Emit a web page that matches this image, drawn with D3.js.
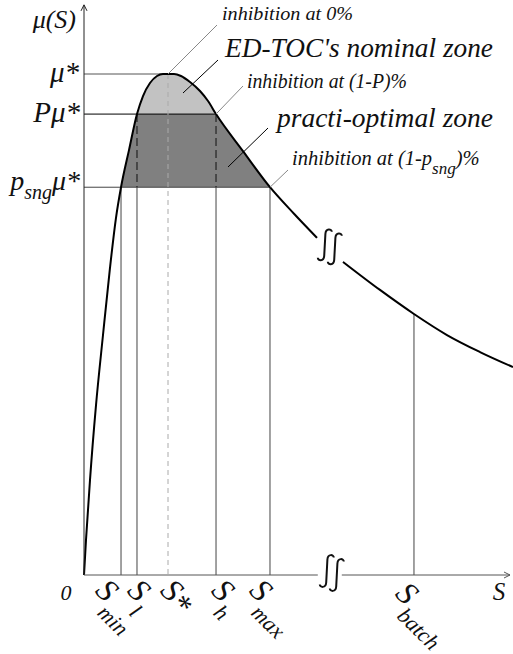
<!DOCTYPE html>
<html>
  <head>
    <meta charset="utf-8">
  </head>
  <body style="margin:0">
    <script src="https://d3js.org/d3.v7.min.js"></script>
    <svg id="chart" width="513" height="654"></svg>
    <script>
      // growth curve, before and after the break (S, mu/mu*)
      const curveA = [
        [0, 0], [0.047, 0.070], [0.141, 0.190], [0.282, 0.339], [0.446, 0.479], [0.610, 0.613],
        [0.751, 0.713], [0.869, 0.774], [1.056, 0.848], [1.244, 0.920], [1.385, 0.956], [1.549, 0.982],
        [1.714, 0.996], [1.854, 1.0], [1.972, 1.0], [2.113, 1.0], [2.277, 0.996], [2.488, 0.984],
        [2.723, 0.966], [2.911, 0.946], [3.099, 0.920], [3.732, 0.846], [4.366, 0.774],
        [4.930, 0.721], [5.469, 0.673]
      ]
      const curveB = [
        [6.080, 0.625], [6.948, 0.569], [7.746, 0.521], [8.521, 0.479], [9.296, 0.445], [10.07, 0.415]
      ]

      // levels on the mu axis
      const levelValues = [1.0, 0.92, 0.774]
      const levelEnds = [1.972, 3.099, 4.366]

      // marks on the S axis
      const tickSubs = ['min', 'l', '*', 'h', 'max', 'batch']
      const tickValues = [0.869, 1.244, 1.972, 3.099, 4.366, 7.746]
      const tickTops = [0.774, 0.92, 1.0, 0.92, 0.774, 0.521]

      const breakS = 5.77
      const breakMu = 0.655

      const svg = d3.select('#chart')
      const x = d3.scaleLinear().domain([0, 10]).range([84, 510])
      const y = d3.scaleLinear().domain([0, 1]).range([575, 74])

      // all labels in italic Times-like serif
      function label(sel, size) {
        return sel.append('text')
          .attr('font-family', 'Liberation Serif')
          .attr('font-style', 'italic')
          .attr('style', `font-family: "Liberation Serif", serif !important; font-style: italic !important; font-size: ${size}px`)
          .attr('fill', '#111')
      }

      const defs = svg.append('defs')
      // clip bands for the two zones
      defs.append('clipPath').attr('id', 'zoneTop')
        .append('rect').attr('x', 0).attr('width', 513)
        .attr('y', y(1.1)).attr('height', y(levelValues[1]) - y(1.1))
      defs.append('clipPath').attr('id', 'zoneMid')
        .append('rect').attr('x', 0).attr('width', 513)
        .attr('y', y(levelValues[1])).attr('height', y(levelValues[2]) - y(levelValues[1]))

      const area = d3.area()
        .x(d => x(d[0])).y0(y(0)).y1(d => y(d[1]))
        .curve(d3.curveMonotoneX)

      svg.append('path').attr('d', area(curveA))
        .attr('clip-path', 'url(#zoneTop)').attr('fill', '#c2c2c2')
      svg.append('path').attr('d', area(curveA))
        .attr('clip-path', 'url(#zoneMid)').attr('fill', '#808080')

      // horizontal level lines
      const levelColors = ['#555', '#000', '#444']
      levelValues.forEach((v, i) => {
        svg.append('line')
          .attr('x1', x(0)).attr('x2', x(levelEnds[i]))
          .attr('y1', y(v)).attr('y2', y(v))
          .attr('stroke', levelColors[i]).attr('stroke-width', 1)
      })

      // vertical lines at the marks
      tickValues.forEach((v, i) => {
        const sub = tickSubs[i]
        if (sub === '*') {
          svg.append('line')
            .attr('x1', x(v)).attr('x2', x(v)).attr('y1', y(tickTops[i])).attr('y2', y(0))
            .attr('stroke', '#aaa').attr('stroke-dasharray', '5,4')
        } else if (sub === 'l' || sub === 'h') {
          svg.append('line')
            .attr('x1', x(v)).attr('x2', x(v)).attr('y1', y(tickTops[i])).attr('y2', y(levelValues[2]))
            .attr('stroke', '#222').attr('stroke-width', 1.2).attr('stroke-dasharray', '8,4')
          svg.append('line')
            .attr('x1', x(v)).attr('x2', x(v)).attr('y1', y(levelValues[2])).attr('y2', y(0))
            .attr('stroke', '#444')
        } else {
          svg.append('line')
            .attr('x1', x(v)).attr('x2', x(v)).attr('y1', y(tickTops[i])).attr('y2', y(0))
            .attr('stroke', '#444')
        }
      })

      // curve
      const line = d3.line().x(d => x(d[0])).y(d => y(d[1])).curve(d3.curveMonotoneX)
      svg.append('path').attr('d', line(curveA)).attr('fill', 'none')
        .attr('stroke', '#000').attr('stroke-width', 2)
      svg.append('path').attr('d', line(curveB)).attr('fill', 'none')
        .attr('stroke', '#000').attr('stroke-width', 2)

      // axes
      const bx = x(breakS)
      svg.append('line').attr('x1', x(0)).attr('x2', x(0)).attr('y1', y(0)).attr('y2', y(1.138))
        .attr('stroke', '#222')
      svg.append('path')
        .attr('d', `M${x(0) - 3},${y(1.138) + 6}L${x(0)},${y(1.138)}L${x(0) + 3},${y(1.138) + 6}`)
        .attr('fill', 'none').attr('stroke', '#222')
      svg.append('line').attr('x1', x(0)).attr('x2', bx - 12).attr('y1', y(0)).attr('y2', y(0))
        .attr('stroke', '#555')
      svg.append('line').attr('x1', bx + 12).attr('x2', x(10)).attr('y1', y(0)).attr('y2', y(0))
        .attr('stroke', '#555')
      svg.append('path')
        .attr('d', `M${x(10) - 6},${y(0) - 3}L${x(10)},${y(0)}L${x(10) - 6},${y(0) + 3}`)
        .attr('fill', 'none').attr('stroke', '#555')

      // break marks
      function breakMark(cx, cy, h) {
        [[-5, -2], [5, 2]].forEach(([ox, oy]) => {
          const sx = cx + ox, yt = cy + oy - h / 2, yb = cy + oy + h / 2
          svg.append('path')
            .attr('d', `M${sx - 7},${yb - 2}C${sx - 7},${yb + 1} ${sx - 1},${yb + 2} ${sx - 0.6},${yb - 4}` +
              `L${sx + 0.6},${yt + 4}C${sx + 1},${yt - 2} ${sx + 7},${yt - 1} ${sx + 7},${yt + 2}`)
            .attr('fill', 'none').attr('stroke', '#111').attr('stroke-width', 2)
        })
      }
      breakMark(bx, y(breakMu), 30)
      breakMark(bx + 2, y(0) - 2, 31)

      // mu axis labels
      label(svg, 26).attr('x', 76).attr('y', 28).attr('text-anchor', 'end').text('μ(S)')
      label(svg, 29).attr('x', 79).attr('y', y(levelValues[0]) + 8).attr('text-anchor', 'end').text('μ*')
      label(svg, 29).attr('x', 80).attr('y', y(levelValues[1]) + 8).attr('text-anchor', 'end').text('Pμ*')
      const ps = label(svg, 28).attr('x', 80).attr('y', y(levelValues[2]) + 3).attr('text-anchor', 'end')
      ps.append('tspan').text('p')
      ps.append('tspan').style('font-size', '20px').attr('dy', 9).text('sng')
      ps.append('tspan').attr('dy', -9).text('μ*')

      // S axis labels
      label(svg, 22).attr('x', 66).attr('y', 600).attr('text-anchor', 'middle').text('0')
      label(svg, 25).attr('x', 499).attr('y', 600).attr('text-anchor', 'middle').text('S')

      const labelNudge = { min: -11, l: 5, '*': 7, h: 10, max: -6, batch: -4 }
      tickValues.forEach((v, i) => {
        const sub = tickSubs[i]
        const g = svg.append('g')
          .attr('transform', `translate(${x(v) - 16 + labelNudge[sub]},${y(0) + 17 + (sub === 'batch' ? 3 : 0)}) rotate(45)`)
        const t = label(g, 32)
        t.append('tspan').text('S')
        if (sub === '*') {
          t.append('tspan').attr('dy', 4).text('*')
        } else {
          t.append('tspan').style('font-size', '22px').attr('dx', 1).attr('dy', 14).text(sub)
        }
      })

      // annotations
      function leader(x1, y1, x2, y2, color) {
        svg.append('line').attr('x1', x1).attr('y1', y1).attr('x2', x2).attr('y2', y2)
          .attr('stroke', color).attr('stroke-width', 1)
      }
      leader(x(tickValues[2]), y(1.0), 217, 25, '#888')
      leader(183, 93, 218, 60, '#000')
      leader(x(tickValues[3]), y(levelValues[1]), 243, 86, '#888')
      leader(228, 167, 268, 128, '#000')
      leader(x(tickValues[4]), y(levelValues[2]), 288, 170, '#888')

      function fitted(t, w) {
        return t.attr('textLength', w).attr('lengthAdjust', 'spacingAndGlyphs')
      }
      fitted(label(svg, 19).attr('x', 222).attr('y', 20).text('inhibition at 0%'), 131)
      fitted(label(svg, 28).attr('x', 225).attr('y', 57).text("ED-TOC's nominal zone"), 268)
      fitted(label(svg, 20).attr('x', 247).attr('y', 88).text('inhibition at (1-P)%'), 160)
      fitted(label(svg, 28).attr('x', 277).attr('y', 127).text('practi-optimal zone'), 216)
      const ia = label(svg, 20.5).attr('x', 292).attr('y', 165)
      ia.append('tspan').text('inhibition at (1-p')
      ia.append('tspan').style('font-size', '17px').attr('dy', 9).text('sng')
      ia.append('tspan').attr('dy', -9).text(')%')
    </script>
  </body>
</html>
